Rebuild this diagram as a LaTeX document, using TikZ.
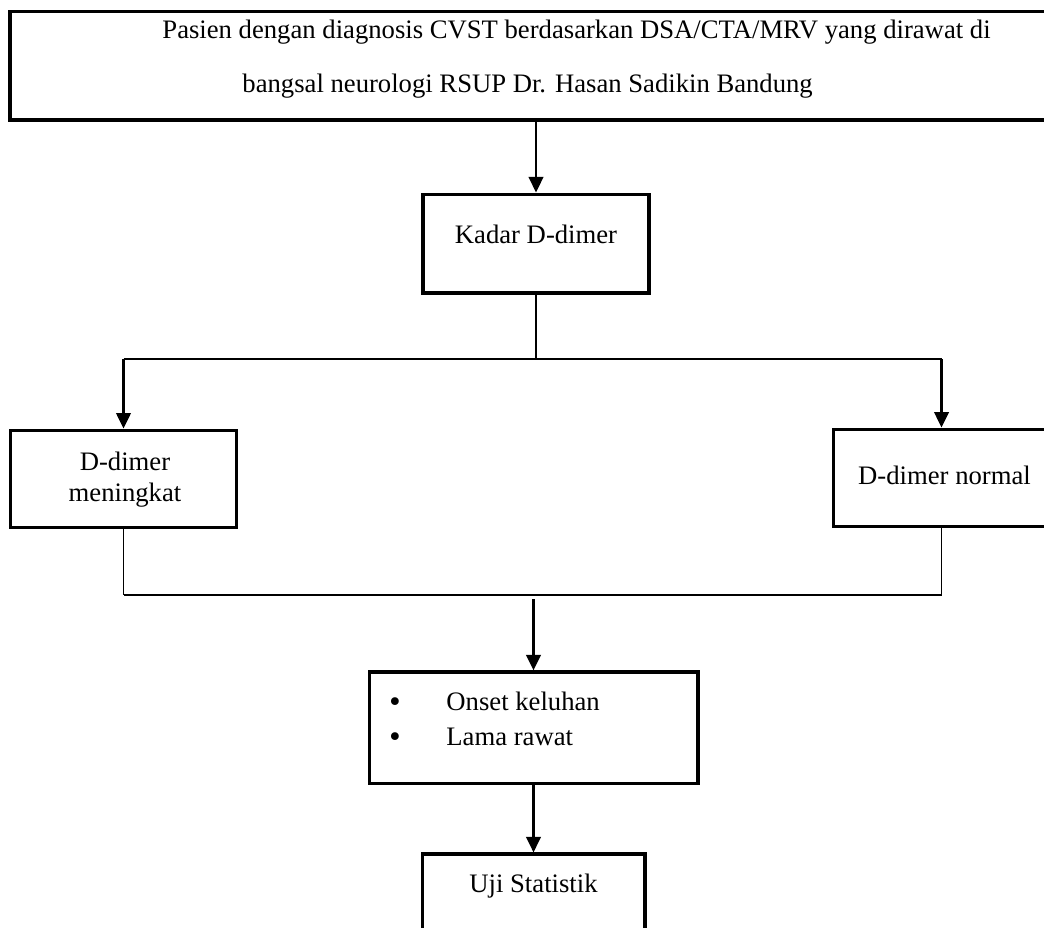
\documentclass[tikz,border=0pt]{standalone}
\usepackage{fontspec}
\setmainfont{Liberation Serif}
\newfontfamily\dotfont{DejaVu Sans}
\usepackage{tikz}
\usetikzlibrary{arrows.meta}

\tikzset{
  box/.style={shape=rectangle, draw=black, line width=1.4pt, inner sep=0pt},
  txt/.style={inner sep=0pt, font=\fontsize{12}{14}\selectfont},
  dot/.style={inner sep=0pt, font=\dotfont\fontsize{12}{14}\selectfont},
  arrowline/.style={-{Triangle[width=6.5pt,length=7pt]}, line width=1.2pt},
  joinline/.style={line width=1.2pt},
  thinline/.style={line width=0.7pt}
}

\begin{document}
\begin{tikzpicture}[x=0.45pt,y=-0.45pt]
        \useasboundingbox (0,0) rectangle (1044,927);

        % boxes
        \node[box, minimum width=468pt, minimum height=49pt] (pasien) at (530,65.5) {};
        \node[box, minimum width=101.7pt, minimum height=44.5pt] (kadar) at (536,243.5) {};
        \node[box, minimum width=102pt, minimum height=44pt] (meningkat) at (123.5,479) {};
        \node[box, minimum width=97.6pt, minimum height=44pt] (normal) at (941.5,478) {};
        \node[box, minimum width=148pt, minimum height=50pt] (onset) at (533.5,727.5) {};
        \node[box, minimum width=100.3pt, minimum height=38.7pt] (uji) at (533.5,897) {};

        % texts
        \node[txt, anchor=base west] (pasien1) at (162,38.5) {Pasien dengan diagnosis CVST berdasarkan DSA/CTA/MRV yang dirawat di};
        \node[txt, anchor=base west] (pasien2) at (242,92) {bangsal neurologi RSUP Dr. Hasan Sadikin Bandung};
        \node[txt, anchor=base] (kadartext) at (536,243) {Kadar D-dimer};
        \node[txt, anchor=base] (meningkat1) at (125,470) {D-dimer};
        \node[txt, anchor=base] (meningkat2) at (125,501) {meningkat};
        \node[txt, anchor=base] (normaltext) at (944.5,484) {D-dimer normal};
        \node[dot, anchor=base] (bullet1) at (395,711) {\textbullet};
        \node[txt, anchor=base west] (onset1) at (446,710) {Onset keluhan};
        \node[dot, anchor=base] (bullet2) at (395,746) {\textbullet};
        \node[txt, anchor=base west] (onset2) at (446,745) {Lama rawat};
        \node[txt, anchor=base] (ujitext) at (533.5,892) {Uji Statistik};

        % split and merge points
        \coordinate (split) at (536,359);
        \coordinate (merge) at (533.5,595);

        %edges between the boxes
        \draw[arrowline] (kadar.north |- pasien.south) -- (kadar.north);
        \draw[thinline] (kadar.south) -- (split);
        \draw[joinline] (meningkat.north |- split) -- (normal.north |- split);
        \draw[arrowline] (meningkat.north |- split) -- (meningkat.north);
        \draw[arrowline] (normal.north |- split) -- (normal.north);
        \draw[thinline] (meningkat.south) -- (meningkat.south |- merge);
        \draw[thinline] (normal.south) -- (normal.south |- merge);
        \draw[joinline] (meningkat.south |- merge) -- (normal.south |- merge);
        \draw[arrowline] ([yshift=-2pt]merge) -- (onset.north);
        \draw[arrowline] (onset.south) -- (uji.north);
\end{tikzpicture}
\end{document}
